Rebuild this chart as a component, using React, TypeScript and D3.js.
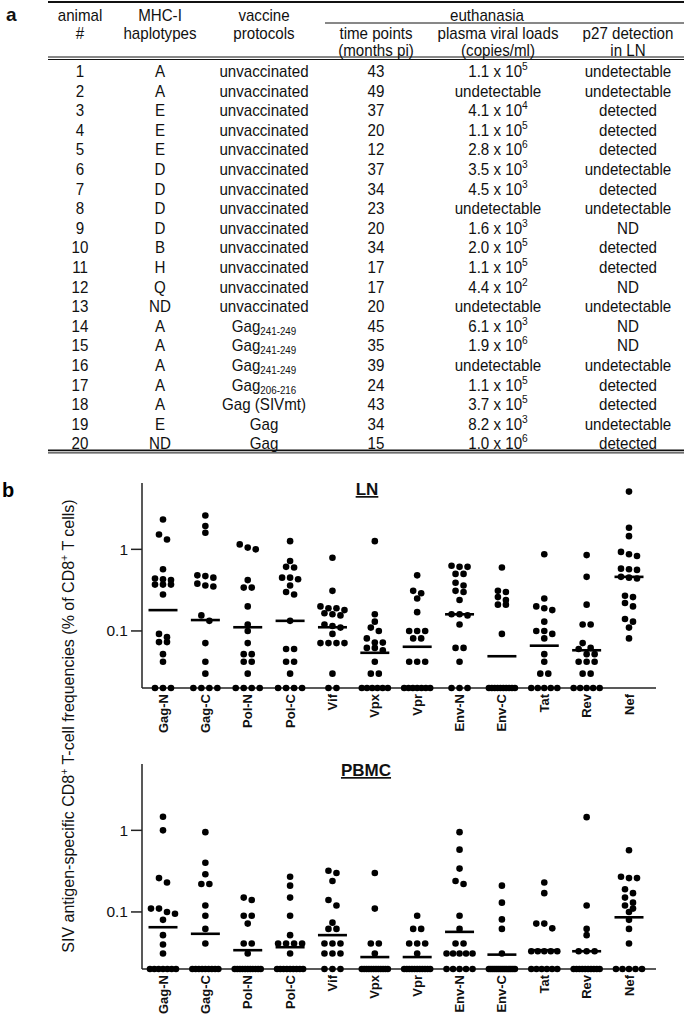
import * as d3 from "d3";

// ---- table (panel a) ----
const animalIds = ["1", "2", "3", "4", "5", "6", "7", "8", "9", "10", "11", "12", "13", "14", "15", "16", "17", "18", "19", "20"];
const haplotypes = ["A", "A", "E", "E", "E", "D", "D", "D", "D", "B", "H", "Q", "ND", "A", "A", "A", "A", "A", "E", "ND"];
const vaccineName = [
  "unvaccinated", "unvaccinated", "unvaccinated", "unvaccinated", "unvaccinated", "unvaccinated", "unvaccinated",
  "unvaccinated", "unvaccinated", "unvaccinated", "unvaccinated", "unvaccinated", "unvaccinated",
  "Gag", "Gag", "Gag", "Gag", "Gag (SIVmt)", "Gag", "Gag",
];
const vaccineSub = ["", "", "", "", "", "", "", "", "", "", "", "", "", "241-249", "241-249", "241-249", "206-216", "", "", ""];
const timePoints = ["43", "49", "37", "20", "12", "37", "34", "23", "20", "34", "17", "17", "20", "45", "35", "39", "24", "43", "34", "15"];
const loadMantissa = ["1.1", null, "4.1", "1.1", "2.8", "3.5", "4.5", null, "1.6", "2.0", "1.1", "4.4", null, "6.1", "1.9", null, "1.1", "3.7", "8.2", "1.0"];
const loadExponent = [5, null, 4, 5, 6, 3, 3, null, 3, 5, 5, 2, null, 3, 6, null, 5, 5, 3, 6];
const p27 = [
  "undetectable", "undetectable", "detected", "detected", "detected", "undetectable", "detected", "undetectable", "ND", "detected",
  "detected", "ND", "undetectable", "ND", "ND", "undetectable", "detected", "detected", "undetectable", "detected",
];

// ---- dot plots (panel b) ----
const antigens = ["Gag-N", "Gag-C", "Pol-N", "Pol-C", "Vif", "Vpx", "Vpr", "Env-N", "Env-C", "Tat", "Rev", "Nef"];

// 0 = undetectable (drawn on the x axis)
const lnValues = [
  [2.32, 1.52, 1.32, 0.57, 0.44, 0.43, 0.42, 0.37, 0.37, 0.37, 0.28, 0.092, 0.084, 0.073, 0.073, 0.052, 0.042, 0, 0, 0],
  [2.6, 1.93, 1.6, 0.48, 0.47, 0.45, 0.38, 0.36, 0.35, 0.155, 0.133, 0.071, 0.042, 0.03, 0, 0, 0, 0],
  [1.15, 1.05, 1.0, 0.42, 0.34, 0.34, 0.2, 0.12, 0.1, 0.071, 0.052, 0.052, 0.042, 0.042, 0.03, 0, 0, 0, 0],
  [1.26, 0.72, 0.61, 0.6, 0.45, 0.45, 0.43, 0.36, 0.3, 0.28, 0.133, 0.06, 0.06, 0.042, 0.042, 0.03, 0, 0, 0, 0],
  [0.79, 0.31, 0.2, 0.19, 0.19, 0.18, 0.165, 0.16, 0.155, 0.12, 0.115, 0.11, 0.092, 0.071, 0.071, 0.071, 0.071, 0.03, 0, 0],
  [1.26, 0.16, 0.13, 0.11, 0.1, 0.081, 0.072, 0.072, 0.062, 0.062, 0.058, 0.042, 0.03, 0.03, 0, 0, 0, 0, 0, 0],
  [0.48, 0.31, 0.29, 0.25, 0.17, 0.1, 0.1, 0.1, 0.081, 0.081, 0.042, 0.042, 0.042, 0, 0, 0, 0, 0, 0, 0],
  [0.63, 0.61, 0.61, 0.5, 0.5, 0.39, 0.36, 0.31, 0.3, 0.24, 0.16, 0.16, 0.155, 0.12, 0.062, 0.062, 0.042, 0, 0, 0],
  [0.6, 0.31, 0.3, 0.26, 0.24, 0.21, 0.21, 0.092, 0, 0, 0, 0, 0, 0, 0, 0, 0, 0],
  [0.87, 0.25, 0.2, 0.19, 0.18, 0.13, 0.1, 0.1, 0.092, 0.081, 0.052, 0.042, 0.03, 0.03, 0, 0, 0, 0, 0],
  [0.85, 0.46, 0.21, 0.12, 0.12, 0.071, 0.062, 0.06, 0.052, 0.052, 0.042, 0.042, 0.042, 0.03, 0.03, 0, 0, 0, 0, 0],
  [5.1, 1.84, 1.45, 0.93, 0.87, 0.83, 0.58, 0.57, 0.56, 0.46, 0.45, 0.44, 0.27, 0.26, 0.22, 0.2, 0.14, 0.13, 0.11, 0.081],
];
const lnMedians = [0.18, 0.136, 0.111, 0.133, 0.111, 0.054, 0.064, 0.16, 0.049, 0.066, 0.058, 0.46];

const pbmcValues = [
  [1.47, 1.0, 0.26, 0.23, 0.11, 0.11, 0.1, 0.095, 0.08, 0.052, 0.04, 0.031, 0, 0, 0, 0, 0, 0, 0],
  [0.95, 0.4, 0.29, 0.22, 0.22, 0.12, 0.09, 0.062, 0.041, 0, 0, 0, 0, 0, 0, 0, 0, 0],
  [0.15, 0.14, 0.09, 0.09, 0.072, 0.041, 0.041, 0.031, 0, 0, 0, 0, 0, 0, 0, 0, 0, 0, 0],
  [0.27, 0.21, 0.15, 0.09, 0.052, 0.041, 0.041, 0.041, 0.041, 0.031, 0, 0, 0, 0, 0, 0, 0, 0, 0],
  [0.32, 0.3, 0.24, 0.14, 0.12, 0.074, 0.062, 0.062, 0.041, 0.041, 0.041, 0.031, 0.031, 0.031, 0, 0, 0],
  [0.3, 0.11, 0.041, 0.041, 0.031, 0, 0, 0, 0, 0, 0, 0, 0, 0, 0, 0, 0],
  [0.09, 0.062, 0.062, 0.041, 0.041, 0.041, 0.031, 0, 0, 0, 0, 0, 0, 0, 0, 0, 0, 0],
  [0.95, 0.58, 0.34, 0.24, 0.22, 0.09, 0.062, 0.041, 0.041, 0.031, 0.031, 0.031, 0.031, 0.031, 0, 0, 0, 0, 0],
  [0.21, 0.13, 0.081, 0.062, 0.031, 0, 0, 0, 0, 0, 0, 0, 0, 0, 0, 0, 0, 0, 0],
  [0.23, 0.17, 0.072, 0.072, 0.063, 0.033, 0.033, 0.033, 0.033, 0.033, 0, 0, 0, 0, 0, 0],
  [1.45, 0.12, 0.062, 0.052, 0.033, 0.033, 0.033, 0, 0, 0, 0, 0, 0, 0, 0, 0, 0],
  [0.57, 0.27, 0.26, 0.26, 0.19, 0.17, 0.15, 0.13, 0.12, 0.11, 0.1, 0.08, 0.062, 0.041, 0, 0, 0, 0, 0],
];
const pbmcMedians = [0.065, 0.054, 0.034, 0.037, 0.052, 0.028, 0.028, 0.057, 0.03, 0.034, 0.033, 0.086];

const yTicks = [1, 0.1];
const FONT = "'Liberation Sans', Arial, Helvetica, sans-serif";

// table geometry
const tableLeft = 48;
const tableRight = 684;
const colX = [80, 160, 264, 376, 498, 628];
const rowY0 = 71;
const rowStep = 19.6;
const FS = 17;
const SQUEEZE = 0.89; // the table lettering is tall and narrow

function T({ x, y, children }: { x: number; y: number; children: React.ReactNode }) {
  return (
    <text transform={`translate(${x},${y}) scale(${SQUEEZE},1)`} textAnchor="middle" fontSize={FS}>
      {children}
    </text>
  );
}

function Table() {
  const base = 6;
  const rows = animalIds.map((id, i) => {
    const cy = rowY0 + i * rowStep + base;
    return (
      <g key={id}>
        <T x={colX[0]} y={cy}>{id}</T>
        <T x={colX[1]} y={cy}>{haplotypes[i]}</T>
        <T x={colX[2]} y={cy}>
          {vaccineName[i]}
          {vaccineSub[i] ? <tspan dy={3} fontSize={11}>{vaccineSub[i]}</tspan> : null}
        </T>
        <T x={colX[3]} y={cy}>{timePoints[i]}</T>
        <T x={colX[4]} y={cy}>
          {loadMantissa[i] == null ? "undetectable" : `${loadMantissa[i]} x 10`}
          {loadMantissa[i] == null ? null : <tspan dy={-7} fontSize={11.5}>{loadExponent[i]}</tspan>}
        </T>
        <T x={colX[5]} y={cy}>{p27[i]}</T>
      </g>
    );
  });
  const lastY = rowY0 + 19 * rowStep + 7;
  return (
    <g fontFamily={FONT} fill="#111">
      <text x={6} y={21} fontSize={19} fontWeight="bold">a</text>
      <line x1={tableLeft} x2={tableRight} y1={2} y2={2} stroke="#111" strokeWidth={2.2} />
      <line x1={325} x2={tableRight} y1={23} y2={23} stroke="#111" strokeWidth={1} />
      <T x={colX[0]} y={15 + base}>animal</T>
      <T x={colX[1]} y={15 + base}>MHC-I</T>
      <T x={colX[2]} y={15 + base}>vaccine</T>
      <T x={487} y={15 + base}>euthanasia</T>
      <T x={colX[0]} y={33 + base}>#</T>
      <T x={colX[1]} y={33 + base}>haplotypes</T>
      <T x={colX[2]} y={33 + base}>protocols</T>
      <T x={colX[3]} y={33 + base}>time points</T>
      <T x={colX[4]} y={33 + base}>plasma viral loads</T>
      <T x={colX[5]} y={33 + base}>p27 detection</T>
      <T x={colX[3]} y={50 + base}>(months pi)</T>
      <T x={colX[4]} y={50 + base}>(copies/ml)</T>
      <T x={colX[5]} y={50 + base}>in LN</T>
      <line x1={tableLeft} x2={tableRight} y1={57} y2={57} stroke="#111" strokeWidth={1} />
      <line x1={tableLeft} x2={tableRight} y1={59.5} y2={59.5} stroke="#111" strokeWidth={1} />
      {rows}
      <line x1={tableLeft} x2={tableRight} y1={lastY} y2={lastY} stroke="#111" strokeWidth={1.6} />
      <line x1={tableLeft} x2={tableRight} y1={lastY + 2.5} y2={lastY + 2.5} stroke="#111" strokeWidth={1} />
    </g>
  );
}

// lay dots of one column side by side when they sit at nearly the same height
function swarm(ys: number[], cx: number) {
  const sorted = ys.map((y) => y).sort((a, b) => a - b);
  const groups: number[][] = [];
  sorted.forEach((y) => {
    const g = groups[groups.length - 1];
    if (g && y - g[0] < 5.5) g.push(y);
    else groups.push([y]);
  });
  const pts: { x: number; y: number }[] = [];
  groups.forEach((g) => {
    const n = g.length;
    const s = n > 1 ? Math.min(8, 26 / (n - 1)) : 0;
    g.forEach((y, i) => pts.push({ x: cx + (i - (n - 1) / 2) * s, y }));
  });
  return pts;
}

interface PanelProps {
  top: number;
  title: string;
  titleX: number;
  values: number[][];
  medians: number[];
}

function DotPanel({ top, title, titleX, values, medians }: PanelProps) {
  const axisLeft = 142;
  const axisRight = 656;
  const h = 205;
  const y = d3.scaleLog().domain([0.02, 6.5]).range([top + h, top]);
  const x = d3.scalePoint<string>().domain(antigens).range([163, 629]);
  const bottom = top + h;

  return (
    <g fontFamily={FONT} fill="#111">
      <line x1={axisLeft} x2={axisLeft} y1={top} y2={bottom} stroke="#222" strokeWidth={1.5} />
      <line x1={axisLeft} x2={axisRight} y1={bottom} y2={bottom} stroke="#222" strokeWidth={1.5} />
      {yTicks.map((t) => (
        <g key={t}>
          <line x1={axisLeft - 11} x2={axisLeft} y1={y(t)} y2={y(t)} stroke="#222" strokeWidth={1.5} />
          <text x={axisLeft - 14} y={y(t) + 5.5} fontSize={15.5} textAnchor="end">{t}</text>
        </g>
      ))}
      <text x={titleX} y={top + 12} fontSize={17} fontWeight="bold" textAnchor="middle" textDecoration="underline">
        {title}
      </text>
      {antigens.map((a, i) => {
        const cx = x(a) as number;
        const ys = values[i].map((v) => (v <= 0 ? bottom : y(v)));
        const pts = swarm(ys, cx);
        return (
          <g key={a}>
            {pts.map((p, j) => (
              <circle key={j} cx={p.x} cy={p.y} r={3.3} fill="#000" />
            ))}
            <line x1={cx - 14.5} x2={cx + 14.5} y1={y(medians[i])} y2={y(medians[i])} stroke="#000" strokeWidth={2.6} />
            <text
              transform={`translate(${cx + 4.5},${bottom + 6}) rotate(-90)`}
              fontSize={13}
              fontWeight="bold"
              textAnchor="end"
            >
              {a}
            </text>
          </g>
        );
      })}
    </g>
  );
}

export default function App() {
  const W = 685;
  const H = 1027;
  return (
    <svg width={W} height={H} style={{ position: "absolute", left: 0, top: 0, background: "#fff" }}>
      <rect width={W} height={H} fill="#fff" />
      <Table />
      <text x={2} y={497} fontSize={20} fontWeight="bold" fontFamily={FONT}>b</text>
      <DotPanel top={483} title="LN" titleX={367} values={lnValues} medians={lnMedians} />
      <DotPanel top={764} title="PBMC" titleX={366} values={pbmcValues} medians={pbmcMedians} />
      <text
        transform="translate(74,726) rotate(-90)"
        fontSize={16}
        textAnchor="middle"
        fontFamily={FONT}
        fill="#111"
      >
        SIV antigen-specific CD8<tspan dy={-6} fontSize={10.5}>+</tspan>
        <tspan dy={6}> T-cell frequencies (% of CD8</tspan>
        <tspan dy={-6} fontSize={10.5}>+</tspan>
        <tspan dy={6}> T cells)</tspan>
      </text>
    </svg>
  );
}
